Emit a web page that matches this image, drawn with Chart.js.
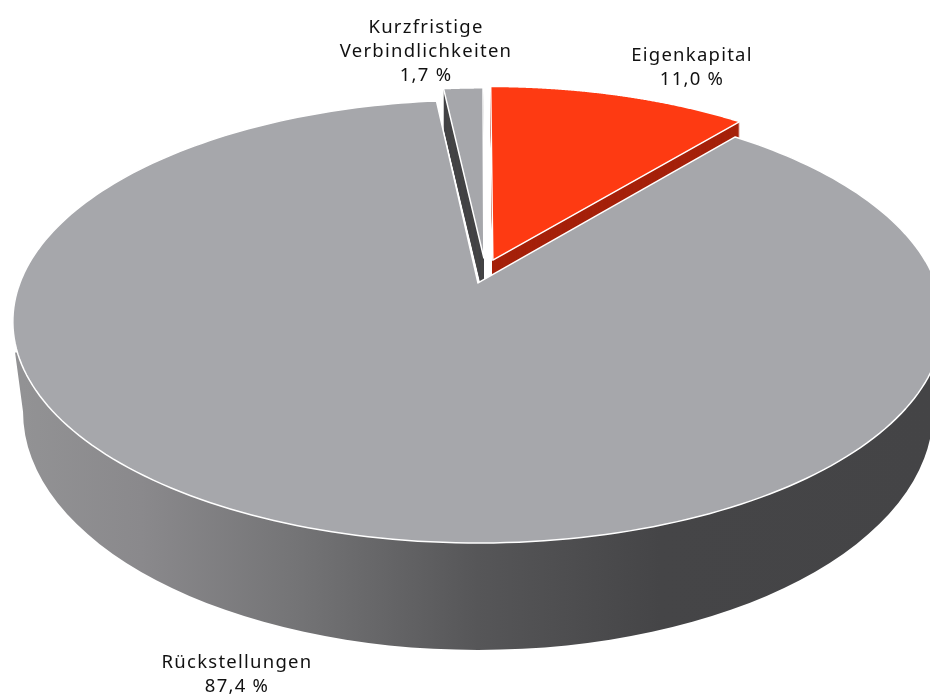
<!DOCTYPE html>
<html lang="de">
<head>
<meta charset="utf-8">
<title>Bilanzstruktur</title>
<script src="https://cdn.jsdelivr.net/npm/chart.js@4"></script>
<style>
    html, body { margin: 0; padding: 0; background: #fff; }
    canvas { display: block; }
</style>
</head>
<body>
<canvas id="pieChart" width="930" height="695"></canvas>
<script>
// Data
const categories = ['Eigenkapital', 'Rückstellungen', 'Kurzfristige Verbindlichkeiten'];
const shares = [11.0, 87.4, 1.7];

// Slice styling, same order as categories
const faceColors = ['#fe3a12', '#a6a7ab', '#a6a7ab'];
const wallColors = ['#a5210a', null, '#444446'];
// Pulled out slices: shift and size on the unit disc, main slice stays put
const explode = [
    { dx: 0.033, dy: -0.108, scale: 0.98 },
    null,
    { dx: 0.013, dy: -0.119, scale: 0.96 }
];
// Label placement: centre x and first baseline, line breaks per label
const labelLines = [['Eigenkapital'], ['Rückstellungen'], ['Kurzfristige', 'Verbindlichkeiten']];
const labelAnchors = [[692, 61], [237, 668], [426, 33]];

const STRETCH = 2.1;      // ellipse width / height of the top face
const TILT = -0.174;      // how far the disc centre is pushed up by the perspective

// Perspective projection of a point on the unit disc to the page
function project(arc, x, y) {
    const w = 1 + TILT * y;
    const k = Math.sqrt(1 - TILT * TILT);
    return {
        x: arc.x + (x * k / w) * arc.outerRadius * STRETCH,
        y: arc.y + ((y + TILT) / w) * arc.outerRadius
    };
}

// Trace one slice, optionally moved down by drop pixels
function traceSlice(ctx, arc, ex, drop) {
    const dx = ex ? ex.dx : 0;
    const dy = ex ? ex.dy : 0;
    const s = ex ? ex.scale : 1;
    const steps = 240;
    ctx.beginPath();
    const apex = project(arc, dx, dy);
    ctx.moveTo(apex.x, apex.y + drop);
    for (let i = 0; i <= steps; i++) {
        const a = arc.startAngle + (arc.endAngle - arc.startAngle) * i / steps;
        const p = project(arc, dx + Math.cos(a) * s, dy + Math.sin(a) * s);
        ctx.lineTo(p.x, p.y + drop);
    }
    ctx.closePath();
}

// Side wall of the big slice, with its left to right shading
function drawMainWall(ctx, arc) {
    const r = arc.outerRadius;
    const a = r * 2.054;
    const b = r * 1.075;
    const cy = arc.y + r * 0.408;
    const startY = arc.y + r * 0.14;
    const topA = r * 2.09;

    const grad = ctx.createLinearGradient(arc.x - a, 0, arc.x + a, 0);
    grad.addColorStop(0, '#929294');
    grad.addColorStop(0.13, '#8a898c');
    grad.addColorStop(0.3, '#747476');
    grad.addColorStop(0.5, '#565658');
    grad.addColorStop(0.7, '#454547');
    grad.addColorStop(1, '#444446');

    ctx.fillStyle = grad;
    ctx.beginPath();
    ctx.moveTo(arc.x - topA, startY);
    ctx.lineTo(arc.x - a, cy);
    ctx.ellipse(arc.x, cy, a, b, 0, Math.PI, 0, true);
    ctx.lineTo(arc.x + topA, startY);
    ctx.closePath();
    ctx.fill();
}

const pie3d = {
    id: 'pie3d',
    beforeDatasetsDraw(chart) {
        const ctx = chart.ctx;
        const arcs = chart.getDatasetMeta(0).data;
        ctx.save();

        drawMainWall(ctx, arcs[1]);

        // walls of the pulled out slices, the big face covers most of them
        arcs.forEach((arc, i) => {
            if (!explode[i]) return;
            ctx.fillStyle = wallColors[i];
            for (let d = 40; d > 0; d -= 1) {
                traceSlice(ctx, arc, explode[i], d);
                ctx.fill();
            }
        });

        // faces, big one first
        [1, 0, 2].forEach(i => {
            traceSlice(ctx, arcs[i], explode[i], 0);
            ctx.fillStyle = arcs[i].options.backgroundColor;
            ctx.fill();
            ctx.strokeStyle = '#ffffff';
            ctx.lineWidth = 1.5;
            ctx.lineJoin = 'round';
            ctx.stroke();
        });

        ctx.restore();
        return false; // the flat arcs are replaced by the ones above
    },
    afterDraw(chart) {
        const ctx = chart.ctx;
        ctx.save();
        ctx.font = '18.5px "Noto Sans"';
        ctx.letterSpacing = '1.25px';
        ctx.fillStyle = '#111111';
        ctx.textAlign = 'center';
        ctx.textBaseline = 'alphabetic';
        categories.forEach((name, i) => {
            const lines = labelLines[i].concat(shares[i].toFixed(1).replace('.', ',') + ' %');
            lines.forEach((line, n) => {
                ctx.fillText(line, labelAnchors[i][0], labelAnchors[i][1] + n * 24);
            });
        });
        ctx.restore();
    }
};

new Chart(document.getElementById('pieChart'), {
    type: 'pie',
    data: {
        labels: categories,
        datasets: [{
            data: shares,
            backgroundColor: faceColors,
            borderWidth: 0
        }]
    },
    options: {
        responsive: false,
        animation: false,
        layout: { padding: { left: 26, right: 0, top: 100, bottom: 152 } },
        plugins: {
            legend: { display: false },
            tooltip: { enabled: false }
        }
    },
    plugins: [pie3d]
});
</script>
</body>
</html>
